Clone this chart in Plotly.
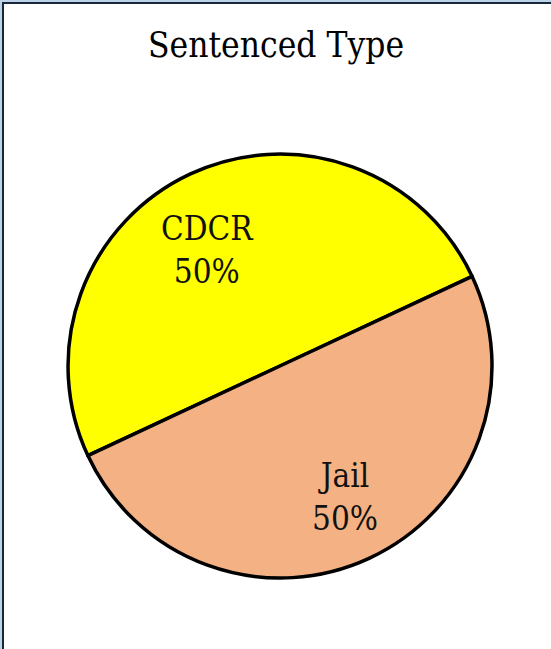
import math
import plotly.graph_objects as go

labels = ["CDCR", "Jail"]
values = [50, 50]
colors = ["#FFFF00", "#F4B183"]
title_text = "Sentenced Type"

W, H = 551, 649
FONT = "DejaVu Serif Condensed, DejaVu Serif"

# pie geometry (pixels)
CX, CY, R = 280, 366, 212
ROTATION = 65  # degrees clockwise from 12 o'clock where first slice starts
label_radius = [0.646, 0.69]   # label distance from centre, fraction of radius
label_nudge = [7, 1.5]         # degrees, style nudge of label angle

fig = go.Figure(go.Pie(
    labels=labels,
    values=values,
    sort=False,
    direction="clockwise",
    rotation=ROTATION - 180,
    marker=dict(colors=colors, line=dict(color="#000000", width=3.5)),
    textinfo="none",
    showlegend=False,
    hoverinfo="label+percent",
    domain=dict(x=[(CX - R) / W, (CX + R) / W], y=[1 - (CY + R) / H, 1 - (CY - R) / H]),
))

# data labels: position from each slice's mid angle (counterclockwise from start)
total = sum(values)
start_math = 90 - ROTATION  # math angle (deg) of first boundary
annotations = []
acc = 0
for i, (lab, v) in enumerate(zip(labels, values)):
    mid = start_math + (acc + v / 2) / total * 360 + label_nudge[i]
    acc += v
    rr = label_radius[i] * R
    px = CX + rr * math.cos(math.radians(mid))
    py = CY - rr * math.sin(math.radians(mid))
    annotations.append(dict(
        text=f"{lab}<br>{round(v / total * 100)}%",
        x=px / W, y=1 - py / H, xref="paper", yref="paper",
        xanchor="center", yanchor="middle", showarrow=False,
        font=dict(family=FONT, size=33, color="#111111"),
    ))

fig.update_layout(
    width=W, height=H,
    margin=dict(l=0, r=0, t=0, b=0),
    paper_bgcolor="white",
    title=dict(text=title_text, x=276 / W, xanchor="center",
               y=1 - 45 / H, yanchor="middle", yref="container",
               font=dict(family=FONT, size=35, color="#000000")),
    annotations=annotations,
    shapes=[
        dict(type="rect", xref="paper", yref="paper", x0=-0.05, x1=1.05, y0=-0.05, y1=1.05,
             fillcolor="#bcd3ea", line=dict(width=0), layer="below"),
        dict(type="rect", xref="paper", yref="paper", x0=3 / W, x1=1.05, y0=-0.05, y1=1 - 3 / H,
             fillcolor="#ffffff", line=dict(color="#17283a", width=2), layer="below"),
    ],
)

fig.write_html("out.html", config={"displayModeBar": False},
               post_script="document.body.style.margin='0';document.body.style.padding='0';"
                           "document.body.style.overflow='hidden';")
